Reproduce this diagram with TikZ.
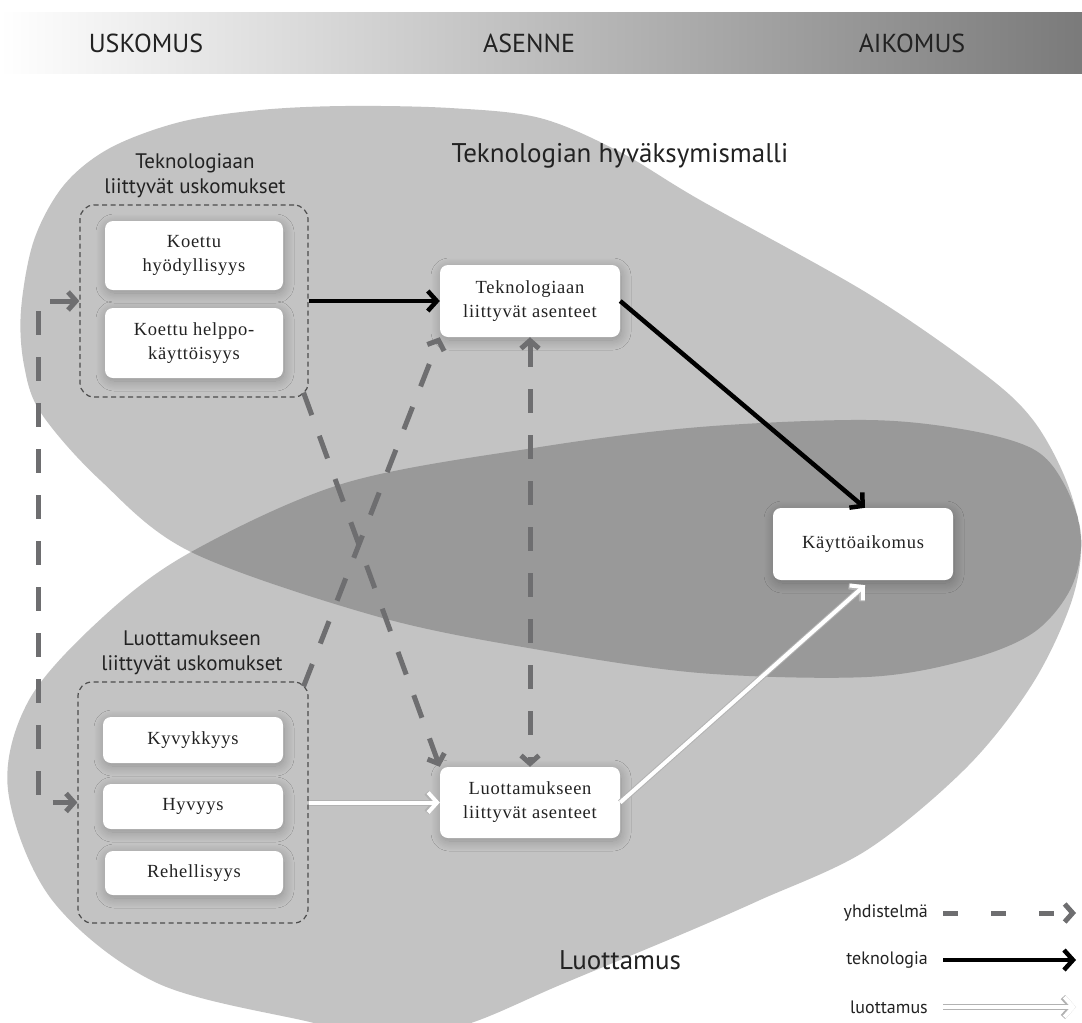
\documentclass[tikz,border=0pt]{standalone}
\usepackage{fontspec}
\newfontfamily\sansf{PT Sans}
\newfontfamily\serf[LetterSpace=4]{Liberation Serif}
\usetikzlibrary{arrows.meta,calc,shadows.blur}
\definecolor{lightg}{HTML}{C3C3C3}
\definecolor{darkg}{HTML}{999999}
\definecolor{arrg}{HTML}{6E6E70}
\definecolor{txt}{HTML}{222222}
\def\toppath{plot[smooth cycle, tension=0.55] coordinates {(21,310) (34,240) (64,185) (110,148) (180,122) (260,110) (345,106) (450,108) (540,118) (620,152) (700,200) (867,293) (983,373) (1033,420) (1066,480) (1081,540) (1070,590) (1033,633) (967,660) (867,677) (700,673) (540,650) (379,617) (191,552) (100,480) (41,413) (24,365)}}
\def\botpath{plot[smooth cycle, tension=0.55] coordinates {(8,790) (29,700) (103,617) (191,552) (345,483) (540,447) (700,427) (867,420) (967,430) (1033,449) (1063,482) (1081,535) (1072,600) (1033,683) (967,767) (867,850) (760,900) (680,935) (560,985) (471,1023) (390,1042) (314,1023) (157,983) (52,900)}}
\begin{document}
\begin{tikzpicture}[x=1pt,y=-1pt,
  box/.style={rounded corners=8pt, fill=white, text=txt, align=center, inner sep=0pt,
    font=\serf\fontsize{18.5}{24}\selectfont,
    blur shadow={shadow xshift=1pt, shadow yshift=-3pt, shadow blur radius=10pt, shadow opacity=25, shadow blur steps=14}},
  grp/.style={draw=black!70, line width=1.2pt, dash pattern=on 5pt off 3.5pt, rounded corners=14pt, inner sep=0pt},
  gtitle/.style={text=txt, align=center, inner sep=0pt, font=\sansf\fontsize{21}{25}\selectfont},
  bigtxt/.style={text=txt, inner sep=0pt, font=\sansf\fontsize{27}{30}\selectfont},
  hdrtxt/.style={text=txt, inner sep=0pt, font=\sansf\fontsize{26}{30}\selectfont},
  legtxt/.style={text=txt, inner sep=0pt, font=\sansf\fontsize{18}{20}\selectfont},
  techarr/.style={draw=black, line width=4.5pt, -{Straight Barb[length=9pt,width=20pt]}},
  dasharr/.style={draw=arrg, line width=5pt, dash pattern=on 24pt off 22pt},
  dtip/.style={-{Straight Barb[length=8pt,width=18pt]}},
  dtips/.style={{Straight Barb[length=8pt,width=18pt]}-{Straight Barb[length=8pt,width=18pt]}},
  trustarr/.style={draw=white, line width=4pt, -{Straight Barb[length=9pt,width=20pt]},
    preaction={draw=black!30, line width=6pt, -{Straight Barb[length=9pt,width=20pt]}}}
]
\useasboundingbox (0,0) rectangle (1082,1023);
\clip (0,0) rectangle (1082,1023);
% header bar
\shade[left color=white, middle color=black!22, right color=black!52] (0,12) rectangle (1082,73);
\node[hdrtxt] (h1) at (146,43) {USKOMUS};
\node[hdrtxt] (h2) at (529,43) {ASENNE};
\node[hdrtxt] (h3) at (912,43) {AIKOMUS};
% regions
\fill[lightg] \toppath;
\fill[lightg] \botpath;
\begin{scope}
  \clip \toppath;
  \fill[darkg] \botpath;
\end{scope}
\node[bigtxt] (tt) at (620,156) {Teknologian hyväksymismalli};
\node[bigtxt] (lt) at (620,960) {Luottamus};
% groups
\node[gtitle] (t1) at (195,175.5) {Teknologiaan\\liittyvät uskomukset};
\node[gtitle] (t2) at (192,652.5) {Luottamukseen\\liittyvät uskomukset};
\node[grp, minimum width=228pt, minimum height=192pt] (g1) at (194,301) {};
\node[grp, minimum width=230pt, minimum height=241pt] (g2) at (193,802.5) {};
% boxes
\node[box, minimum width=178pt, minimum height=69pt] (k1) at (194,255.5) {Koettu\\hyödyllisyys};
\node[box, minimum width=178pt, minimum height=70pt] (k2) at (194,343) {Koettu helppo-\\käyttöisyys};
\node[box, minimum width=180pt, minimum height=46pt] (ky) at (193,740) {Kyvykkyys};
\node[box, minimum width=180pt, minimum height=45pt] (hy) at (193,806.5) {Hyvyys};
\node[box, minimum width=178pt, minimum height=44pt] (re) at (194,873) {Rehellisyys};
\node[box, minimum width=180pt, minimum height=72pt] (ta) at (530,301) {Teknologiaan\\liittyvät asenteet};
\node[box, minimum width=180pt, minimum height=71pt] (la) at (530,802.5) {Luottamukseen\\liittyvät asenteet};
\node[box, minimum width=180pt, minimum height=72pt] (ka) at (863,544) {Käyttöaikomus};
% connectors
\coordinate (c1) at (38,301);
\coordinate (c2) at (38,802.5);
\draw[dasharr, dtips] (g1.west) -- (c1) -- (c2) -- (g2.west);
\draw[dasharr, dtips] (ta.south) -- (la.north);
\draw[dasharr, dtip] ($(g1.south east)+(-5,-5)$) -- (la.north west);
\draw[dasharr, dtip] ($(g2.north east)+(-5,5)$) -- (ta.south west);
\draw[techarr] (g1.east) -- (ta.west);
\draw[techarr] (ta.east) -- ($(ka.north)+(2,0)$);
\draw[trustarr] (g2.east) -- (la.west);
\draw[trustarr] (la.east) -- ($(ka.south)+(2,5)$);
% legend
\node[legtxt, anchor=east] (l1) at (928,913) {yhdistelmä};
\node[legtxt, anchor=east] (l2) at (928,960) {teknologia};
\node[legtxt, anchor=east] (l3) at (928,1007) {luottamus};
\coordinate (e1) at (1076,913);
\coordinate (e2) at (1076,960);
\coordinate (e3) at (1076,1007);
\draw[dasharr, dash pattern=on 15pt off 33pt, dtip] ($(l1.east)+(15,0)$) -- (e1);
\draw[techarr] ($(l2.east)+(15,0)$) -- (e2);
\draw[trustarr] ($(l3.east)+(15,0)$) -- (e3);
\end{tikzpicture}
\end{document}
